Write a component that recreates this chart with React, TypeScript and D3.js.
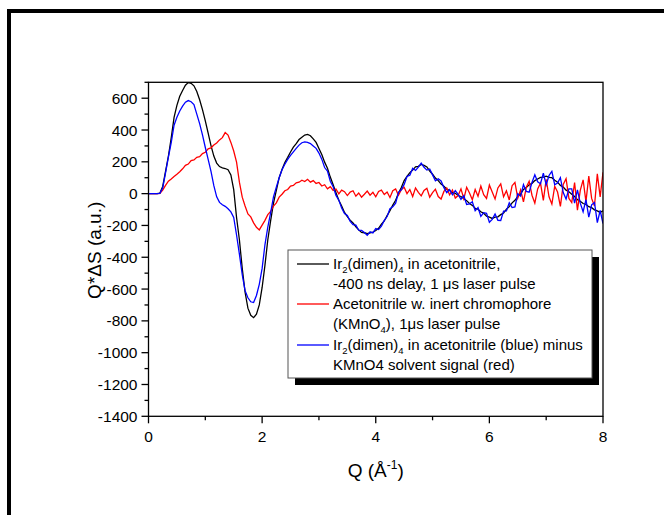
import React from "react";
import * as d3 from "d3";

// Q grid step (Å^-1); series values sampled at Q = 0, 0.05, ..., 8.00
const Q_STEP = 0.05;

// Ir2(dimen)4 in acetonitrile, -400 ns delay, 1 µs laser pulse (black)
const irDimen: number[] = [
  0, 0, 0, 0, 3, 45, 140, 235, 350, 480,
  555, 612, 648, 682, 698, 694, 678, 642, 590, 528,
  458, 380, 302, 236, 192, 170, 162, 158, 150, 118,
  25, -150, -290, -470, -620, -720, -765, -780, -758, -700,
  -590, -450, -290, -170, -60, 20, 100, 152, 196, 228,
  262, 292, 314, 340, 354, 368, 372, 364, 344, 322,
  284, 246, 198, 160, 104, 56, 6, -42, -78, -118,
  -144, -168, -184, -208, -228, -244, -246, -252, -246, -242,
  -232, -218, -192, -172, -138, -108, -72, -42, 2, 38,
  82, 108, 132, 148, 168, 172, 184, 178, 168, 142,
  122, 98, 82, 60, 46, 28, 20, 6, 2, -12,
  -18, -32, -44, -62, -74, -92, -98, -114, -124, -142,
  -148, -156, -148, -146, -132, -122, -98, -82, -58, -42,
  -18, -2, 26, 38, 56, 64, 82, 92, 102, 104,
  110, 102, 100, 84, 72, 52, 42, 22, 12, -4,
  -18, -38, -48, -62, -68, -82, -88, -102, -108, -118,
  -108,
];

// Acetonitrile w. inert chromophore (KMnO4), 1 µs laser pulse (red)
const kmno4: number[] = [
  0, 0, 0, 0, 2, 22, 52, 78, 92, 108,
  122, 138, 156, 178, 186, 208, 212, 228, 232, 252,
  260, 282, 288, 306, 318, 338, 352, 384, 368, 322,
  268, 198, 72, -22, -78, -128, -146, -184, -212, -228,
  -198, -168, -132, -112, -78, -58, -22, -4, 18, 26,
  48, 52, 68, 72, 84, 76, 90, 72, 82, 64,
  70,
  48, 56, 30, 44, 20, 28, -2, 22, 12, -12,
  10, 18, -16, 4, -22, -4, 16, -10, 8, -20,
  14, 22, -6, 10, -24, 18, 30, -10, 24, 40,
  0, 26, -18, 36, 8, -14, 20, 34, -22, 6,
  28, -18, -34, 14, 36, -8, 22, -28, -12, 30,
  -32, 40, 4, -38, 26, -16, 48, -6, -30, 54,
  10, -34, 36, 62, -20, 18, -40, 50, 70, -28,
  24, -52, 40, 78, -10, -60, 30, 66, -42, 90,
  -20, -66, 46, 10, -80, 58, 94, -30, -56, 70,
  -104, 20, 86, -50, 110, -30, -78, 124, -20, 134,
];

// Ir2(dimen)4 (blue) minus KMnO4 solvent signal
const difference: number[] = [
  0, 0, 0, 0, 2, 35, 130, 230, 320, 430,
  480, 520, 550, 575, 585, 578, 560, 500, 440, 370,
  290, 215, 140, 50, -20, -55, -70, -80, -95, -115,
  -150, -260, -380, -510, -610, -655, -680, -685, -640, -570,
  -470, -320, -210, -120, -20, 40, 100, 150, 185, 215,
  240, 262, 285, 305, 320, 325, 322, 315, 300, 285,
  255,
  217, 164, 142, 78, 44, -11, -41, -91, -125, -137,
  -174, -195, -198, -230, -231, -244, -262, -240, -247, -220,
  -226, -205, -168, -144, -94, -83, -60, 8, 24, 58,
  108, 116, 159, 146, 167, 192, 166, 148, 155, 118,
  81, 93, 80, 38, 6, 25, -7, 19, -5, -36,
  -13, -68, -64, -51, -108, -88, -143, -120, -124, -180,
  -162, -128, -168, -169, -110, -109, -58, -88, -84, -1,
  -16, 57, 14, 9, 70, 118, 74, 62, 129, 56,
  114, 140, 56, 66, 100, 7, -34, 30, 30, -60,
  24, -60, -114, -38, -148, -70, -55, -182, -106, -188,
];

const xTicks = [0, 2, 4, 6, 8];
const xMinorTicks = [1, 3, 5, 7];
const yTicks = [600, 400, 200, 0, -200, -400, -600, -800, -1000, -1200, -1400];
const yMinorTicks = [700, 500, 300, 100, -100, -300, -500, -700, -900, -1100, -1300];

const FONT = "'Liberation Sans', Arial, sans-serif";

export default function App() {
  const W = 664;
  const H = 515;
  const x = d3.scaleLinear().domain([0, 8]).range([148.5, 603]);
  const y = d3.scaleLinear().domain([-1400, 700]).range([416.3, 82.3]);

  const line = d3
    .line<number>()
    .x((_, i) => x(i * Q_STEP))
    .y((d) => y(d));

  const x0 = x.range()[0];
  const x1 = x.range()[1];
  const yBot = y.range()[0];
  const yTop = y.range()[1];

  const legendX = 288;
  const legendY = 250;
  const legendW = 304;
  const legendH = 128;

  const subStyle = { fontSize: 9.5 } as React.CSSProperties;

  return (
    <svg
      width={W}
      height={H}
      style={{ position: "absolute", left: 0, top: 0, background: "#fff" }}
      fontFamily={FONT}
    >
      {/* outer frame */}
      <rect x={9} y={11} width={720} height={600} fill="none" stroke="#000" strokeWidth={4} />

      {/* data */}
      <defs>
        <clipPath id="plotclip">
          <rect x={x0} y={yTop} width={x1 - x0} height={yBot - yTop} />
        </clipPath>
      </defs>
      <g clipPath="url(#plotclip)">
        <path d={line(irDimen) || ""} fill="none" stroke="#000" strokeWidth={1.3} />
        <path d={line(kmno4) || ""} fill="none" stroke="#ff0000" strokeWidth={1.3} />
        <path d={line(difference) || ""} fill="none" stroke="#0000ff" strokeWidth={1.3} />
      </g>

      {/* plot box */}
      <rect x={x0} y={yTop} width={x1 - x0} height={yBot - yTop} fill="none" stroke="#000" strokeWidth={1.3} />

      {/* y axis ticks */}
      {yTicks.map((t) => (
        <g key={"y" + t}>
          <line x1={x0 - 7} x2={x0} y1={y(t)} y2={y(t)} stroke="#000" strokeWidth={1.3} />
          <text x={x0 - 11} y={y(t) + 5.5} fontSize={15.5} textAnchor="end" fill="#000">
            {t}
          </text>
        </g>
      ))}
      {yMinorTicks.map((t) => (
        <line key={"ym" + t} x1={x0 - 4} x2={x0} y1={y(t)} y2={y(t)} stroke="#000" strokeWidth={1.3} />
      ))}

      {/* x axis ticks */}
      {xTicks.map((t) => (
        <g key={"x" + t}>
          <line x1={x(t)} x2={x(t)} y1={yBot} y2={yBot + 7} stroke="#000" strokeWidth={1.3} />
          <text x={x(t)} y={yBot + 26} fontSize={15.5} textAnchor="middle" fill="#000">
            {t}
          </text>
        </g>
      ))}
      {xMinorTicks.map((t) => (
        <line key={"xm" + t} x1={x(t)} x2={x(t)} y1={yBot} y2={yBot + 4} stroke="#000" strokeWidth={1.3} />
      ))}

      {/* axis titles */}
      <text x={(x0 + x1) / 2} y={477} fontSize={19} textAnchor="middle" fill="#000">
        Q (Å
        <tspan fontSize={12} dy={-8}>-1</tspan>
        <tspan dy={8}>)</tspan>
      </text>
      <text
        transform={`translate(101, ${(yTop + yBot) / 2 + 1}) rotate(-90)`}
        fontSize={19}
        textAnchor="middle"
        fill="#000"
      >
        Q*ΔS (a.u.)
      </text>

      {/* legend */}
      <rect x={legendX + 7} y={legendY + 7} width={legendW} height={legendH} fill="#000" />
      <rect x={legendX} y={legendY} width={legendW} height={legendH} fill="#fff" stroke="#555" strokeWidth={1} />
      <g fontSize={15} fill="#000">
        <line x1={297} x2={329} y1={264} y2={264} stroke="#000" strokeWidth={1.3} />
        <text x={333} y={269}>
          Ir<tspan style={subStyle} dy={4}>2</tspan>
          <tspan dy={-4}>(dimen)</tspan>
          <tspan style={subStyle} dy={4}>4</tspan>
          <tspan dy={-4}> in acetonitrile,</tspan>
        </text>
        <text x={333} y={289}>-400 ns delay, 1 μs laser pulse</text>
        <line x1={297} x2={329} y1={304} y2={304} stroke="#ff0000" strokeWidth={1.3} />
        <text x={333} y={309}>Acetonitrile w. inert chromophore</text>
        <text x={333} y={329}>
          (KMnO<tspan style={subStyle} dy={4}>4</tspan>
          <tspan dy={-4}>), 1μs laser pulse</tspan>
        </text>
        <line x1={297} x2={329} y1={345} y2={345} stroke="#0000ff" strokeWidth={1.3} />
        <text x={333} y={350}>
          Ir<tspan style={subStyle} dy={4}>2</tspan>
          <tspan dy={-4}>(dimen)</tspan>
          <tspan style={subStyle} dy={4}>4</tspan>
          <tspan dy={-4}> in acetonitrile (blue) minus</tspan>
        </text>
        <text x={333} y={370}>KMnO4 solvent signal (red)</text>
      </g>
    </svg>
  );
}
